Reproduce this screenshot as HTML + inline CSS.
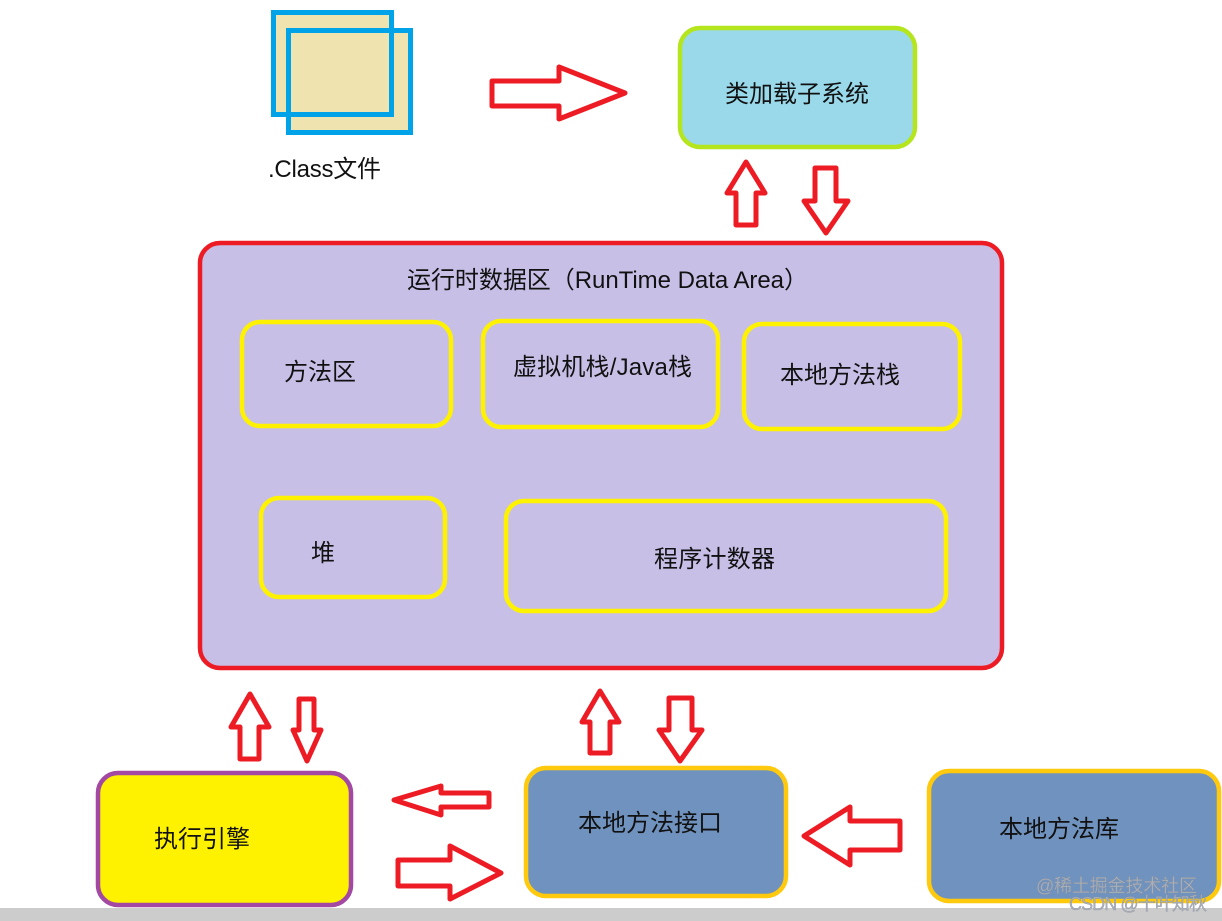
<!DOCTYPE html>
<html><head><meta charset="utf-8"><style>
html,body{margin:0;padding:0;background:#fff;width:1222px;height:921px;overflow:hidden}
svg{display:block}
text{font-family:"Liberation Sans","Noto Sans CJK SC",sans-serif;font-size:24px;fill:#111}
.a{fill:#fff;stroke:#ED1C24;stroke-width:5;stroke-linejoin:round}
.y{fill:#C8BFE7;stroke:#FFF200;stroke-width:4.5}
.wm{font-size:18px;fill:#a9b0bb;stroke:#8a8f98;stroke-width:.3}
</style></head><body>
<svg width="1222" height="921" viewBox="0 0 1222 921" xmlns="http://www.w3.org/2000/svg">
<rect x="273.5" y="12.5" width="118" height="102" fill="#EFE4B0"/>
<rect x="288.5" y="30.5" width="122" height="102" fill="#EFE4B0"/>
<rect x="273.5" y="12.5" width="118" height="102" fill="none" stroke="#00A2E8" stroke-width="5"/>
<rect x="288.5" y="30.5" width="122" height="102" fill="none" stroke="#00A2E8" stroke-width="5"/>
<text x="268" y="177" textLength="113">.Class文件</text>
<polygon class="a" points="492,81 559,81 559,67 625,93 559,119 559,106 492,106"/>

<rect x="680" y="28" width="235" height="119" rx="20" fill="#99D9EA" stroke="#B5E61D" stroke-width="4.5"/>
<text x="725" y="102" textLength="144">类加载子系统</text>

<polygon class="a" points="746,162 765,193 756,193 756,225 736,225 736,193 727,193"/>
<polygon class="a" points="815,168 836,168 836,201 848,201 826,233 804,201 815,201"/>

<rect x="200" y="243" width="802" height="425" rx="20" fill="#C8BFE7" stroke="#ED1C24" stroke-width="4.5"/>
<text x="407" y="288" textLength="401">运行时数据区（RunTime Data Area）</text>

<rect class="y" x="242" y="322" width="209" height="104" rx="18"/>
<text x="284" y="380" textLength="72">方法区</text>
<rect class="y" x="483" y="321" width="235" height="106" rx="18"/>
<text x="513" y="375" textLength="179">虚拟机栈/Java栈</text>
<rect class="y" x="744" y="324" width="216" height="105" rx="18"/>
<text x="780" y="383" textLength="120">本地方法栈</text>
<rect class="y" x="261" y="498" width="184" height="99" rx="18"/>
<text x="311" y="561" textLength="24">堆</text>
<rect class="y" x="506" y="501" width="440" height="110" rx="18"/>
<text x="654" y="567" textLength="121">程序计数器</text>

<polygon class="a" points="250,694 269,727 259,727 259,759 240,759 240,727 231,727"/>
<polygon class="a" points="299,699 314,699 314,730 321,730 307,761 293,730 299,730"/>
<polygon class="a" points="600,691 619,722 610,722 610,753 590,753 590,722 582,722"/>
<polygon class="a" points="669,698 692,698 692,730 702,730 680,761 659,730 669,730"/>

<rect x="98" y="773" width="253" height="132" rx="20" fill="#FFF200" stroke="#A349A4" stroke-width="4.5"/>
<text x="154" y="847" textLength="96">执行引擎</text>

<polygon class="a" points="394,800 441,786 441,793 489,793 489,807 441,807 441,815"/>
<polygon class="a" points="398,860 450,860 450,846 501,873 450,899 450,886 398,886"/>

<rect x="526" y="768" width="260" height="128" rx="20" fill="#7092BE" stroke="#FFC90E" stroke-width="4.5"/>
<text x="578" y="831" textLength="144">本地方法接口</text>

<polygon class="a" points="804,836 850,807 850,821 900,821 900,850 850,850 850,865"/>

<rect x="929" y="771" width="290" height="130" rx="20" fill="#7092BE" stroke="#FFC90E" stroke-width="4.5"/>
<text x="999" y="837" textLength="120">本地方法库</text>

<rect x="0" y="908" width="1222" height="13" fill="#CCCCCC"/>
<text class="wm" x="1036" y="892" textLength="161">@稀土掘金技术社区</text>
<text class="wm" x="1069" y="910" textLength="138">CSDN @十叶知秋</text>
</svg>
</body></html>
